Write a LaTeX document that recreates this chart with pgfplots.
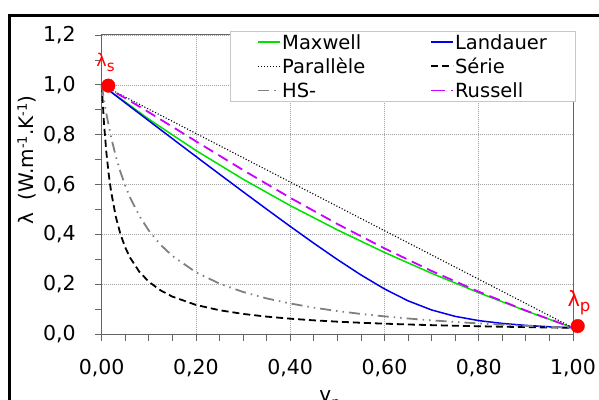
\documentclass[border=0pt]{standalone}
\usepackage{fontspec}
\setmainfont{DejaVu Sans}
\usepackage{pgfplots}
\pgfplotsset{compat=1.18}
\definecolor{mgreen}{RGB}{0,225,0}
\definecolor{mblue}{RGB}{0,0,235}
\definecolor{mmag}{RGB}{204,0,255}
\definecolor{mgray}{RGB}{128,128,128}
\definecolor{axgray}{RGB}{100,100,100}
\definecolor{gridgray}{RGB}{165,165,165}
\definecolor{leggray}{RGB}{200,200,200}
\begin{document}
\begin{tikzpicture}[x=1pt,y=1pt]
\begin{axis}[
  at={(101.7pt,64.7pt)}, anchor=south west,
  scale only axis, width=471.3pt, height=299.3pt,
  xmin=0, xmax=1, ymin=0, ymax=1.2,
  xtick={0,0.2,0.4,0.6,0.8,1}, ytick={0,0.2,0.4,0.6,0.8,1,1.2},
  minor x tick num=3, minor y tick num=1,
  tick pos=left,
  tick align=outside, major tick length=6.5pt, minor tick length=6.5pt,
  every tick/.style={axgray, line width=0.8pt},
  minor tick style={axgray, line width=0.8pt},
  axis line style={axgray, line width=1pt},
  grid=major, major grid style={gridgray, dash pattern=on 1pt off 1pt, line width=0.7pt},
  /pgf/number format/assume math mode=true,
  tick label style={font=\fontsize{20.5}{24}\selectfont, black},
  xticklabel style={/pgf/number format/fixed, /pgf/number format/fixed zerofill, /pgf/number format/precision=2, /pgf/number format/use comma, yshift=-15pt},
  yticklabel style={/pgf/number format/fixed, /pgf/number format/fixed zerofill, /pgf/number format/precision=1, /pgf/number format/use comma, xshift=-16pt},
  label style={font=\fontsize{20}{24}\selectfont},
  ylabel={λ\ \ (W.m\raisebox{7pt}{\fontsize{13}{13}\selectfont -1}.K\raisebox{7pt}{\fontsize{13}{13}\selectfont -1})},
  ylabel style={at={(axis description cs:-0.1585,0.582)}, anchor=center},
  xlabel={v\raisebox{-6pt}{\fontsize{14}{14}\selectfont p}},
  xlabel style={at={(axis description cs:0.484,-0.223)}, anchor=base},
  clip=false,
  legend columns=2,
  legend cell align=left,
  legend style={at={(axis description cs:0.2722,1.0144)}, anchor=north west,
    draw=leggray, line width=0.8pt, fill=white,
    font=\fontsize{19.5}{23}\selectfont,
    inner xsep=27pt, inner ysep=4pt, row sep=10pt,
    nodes={inner xsep=1pt, inner ysep=0pt, text height=14.2pt, text depth=0pt},
    /tikz/every even column/.append style={column sep=64pt}},
  legend image code/.code={\draw[#1] (0pt,0pt) -- (22pt,0pt);},
]
% Maxwell
\addplot[color=mgreen, line width=1.5pt] coordinates {
(0,1) (0.1,0.8624) (0.2,0.7369) (0.3,0.6219) (0.4,0.5161) (0.5,0.4186)
(0.6,0.3284) (0.7,0.2446) (0.8,0.1667) (0.9,0.0940) (1,0.026)};
\addlegendentry{Maxwell}
% Landauer
\addplot[color=mblue, line width=1.5pt] coordinates {
(0,1) (0.05,0.9280) (0.1,0.8561) (0.15,0.7844) (0.2,0.7130) (0.25,0.6420)
(0.3,0.5715) (0.35,0.5016) (0.4,0.4326) (0.45,0.3652) (0.5,0.2999)
(0.55,0.2381) (0.6,0.1819) (0.65,0.1342) (0.7,0.0976) (0.75,0.0719)
(0.8,0.0549) (0.85,0.0436) (0.9,0.0357) (0.95,0.0302) (1,0.026)};
\addlegendentry{Landauer}
% Parallele
\addplot[black, line width=1.1pt, dash pattern=on 1.1pt off 1.9pt] coordinates {
(0,1) (1,0.026)};
\addlegendentry{Parallèle}
% Serie
\addplot[black, line width=1.8pt, dash pattern=on 7pt off 4pt] coordinates {
(0,1) (0.005,0.8422) (0.01,0.7275) (0.015,0.6402) (0.02,0.5717) (0.03,0.4708)
(0.04,0.4002) (0.05,0.3481) (0.06,0.3079) (0.08,0.2502) (0.1,0.2107)
(0.125,0.1760) (0.15,0.1511) (0.2,0.1178) (0.25,0.0965) (0.3,0.0817)
(0.35,0.0709) (0.4,0.0626) (0.45,0.0560) (0.5,0.0507) (0.55,0.0463)
(0.6,0.0426) (0.65,0.0394) (0.7,0.0367) (0.75,0.0344) (0.8,0.0323)
(0.85,0.0304) (0.9,0.0288) (0.95,0.0273) (1,0.026)};
\addlegendentry{Série}
% HS-
\addplot[mgray, line width=1.8pt, dash pattern=on 11pt off 5pt on 1.5pt off 5pt on 1.5pt off 5pt] coordinates {
(0,1) (0.005,0.9382) (0.01,0.8832) (0.02,0.7898) (0.03,0.7133) (0.04,0.6496)
(0.05,0.5956) (0.06,0.5494) (0.08,0.4743) (0.1,0.4158) (0.125,0.3588)
(0.15,0.3142) (0.2,0.2488) (0.25,0.2032) (0.3,0.1697) (0.35,0.1439)
(0.4,0.1235) (0.45,0.1069) (0.5,0.0932) (0.55,0.0817) (0.6,0.0719)
(0.65,0.0634) (0.7,0.0560) (0.75,0.0495) (0.8,0.0437) (0.85,0.0386)
(0.9,0.0340) (0.95,0.0298) (1,0.026)};
\addlegendentry{HS-}
% Russell
\addplot[mmag, line width=1.8pt, dash pattern=on 11pt off 6pt,
  legend image post style={dash pattern=on 14pt off 6pt on 2pt off 10pt}] coordinates {
(0,1) (0.05,0.9469) (0.1,0.8903) (0.2,0.7739) (0.3,0.6585) (0.4,0.5474)
(0.5,0.4424) (0.6,0.3445) (0.7,0.2540) (0.8,0.1709) (0.9,0.0950) (1,0.026)};
\addlegendentry{Russell}
% end points
\addplot[only marks, mark=*, mark size=6.8pt, mark options={draw=red, fill=red}, forget plot]
  coordinates {(0.014,0.997) (1.010,0.033)};
\node[red, anchor=base west, inner sep=0pt, font=\fontsize{17.5}{17.5}\selectfont]
  at (axis cs:-0.0115,1.073) {λ\raisebox{-5pt}{\fontsize{15}{15}\selectfont s}};
\node[red, anchor=base west, inner sep=0pt, font=\fontsize{21}{21}\selectfont]
  at (axis cs:0.988,0.1107) {λ\raisebox{-5.3pt}{\fontsize{16.5}{16.5}\selectfont p}};
\end{axis}
\pgfresetboundingbox
\useasboundingbox (0,0) rectangle (599,399);
\draw[black, line width=2.6pt] (9.6,383.6) rectangle (640,-40);
\end{tikzpicture}
\end{document}
